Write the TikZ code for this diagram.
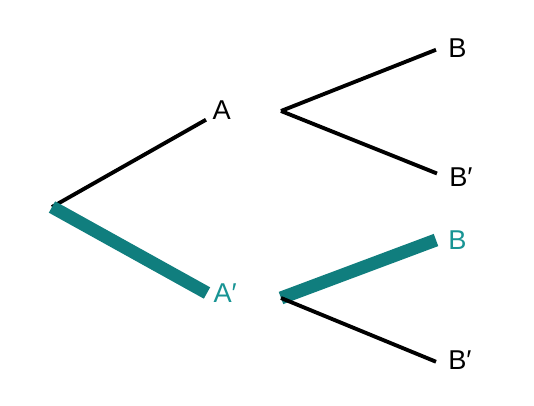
\documentclass[tikz,border=0pt]{standalone}
\usepackage{fontspec}
\setmainfont{Liberation Sans}
\usetikzlibrary{arrows, arrows.meta}
\definecolor{pathteal}{RGB}{16,126,126}
\definecolor{labelteal}{RGB}{24,148,148}
\tikzset{branch/.style={line width=2.2pt},
  chosen/.style={pathteal, line width=7.4pt},
  stage/.style={anchor=west, inner ysep=0pt, inner xsep=3.5pt, font=\fontsize{15.5}{18}\selectfont},
  leaf/.style={stage, inner xsep=6.8pt}}

\begin{document}
\begin{tikzpicture}[>=latex, x=0.2cm, y=-0.2cm]
\useasboundingbox (0,0) rectangle (53.4,40.6);
\coordinate (root) at (5.2,20.7);
\node[stage] (A) at (20.6,11.0) {A};
\node[stage, text=labelteal] (A') at (20.7,29.3) {A′};
\coordinate (forkA) at (28.1,11.1);
\coordinate (forkA') at (28.1,29.8);
\node[leaf] (B1) at (43.6,4.8) {B};
\node[leaf] (B'1) at (43.7,17.7) {B′};
\node[leaf, text=labelteal] (B2) at (43.6,24.0) {B};
\node[leaf] (B'2) at (43.6,36.0) {B′};
% first stage
\draw[branch] (root) -- (A.south west);
\draw[chosen] (root) -- (A'.west);
% second stage
\draw[branch] (forkA) -- ([yshift=-1pt]B1.west);
\draw[branch] (forkA) -- ([yshift=2pt]B'1.west);
\draw[chosen] (forkA') -- (B2.west);
\draw[branch] (forkA') -- ([yshift=-1pt]B'2.west);
\end{tikzpicture}
\end{document}
